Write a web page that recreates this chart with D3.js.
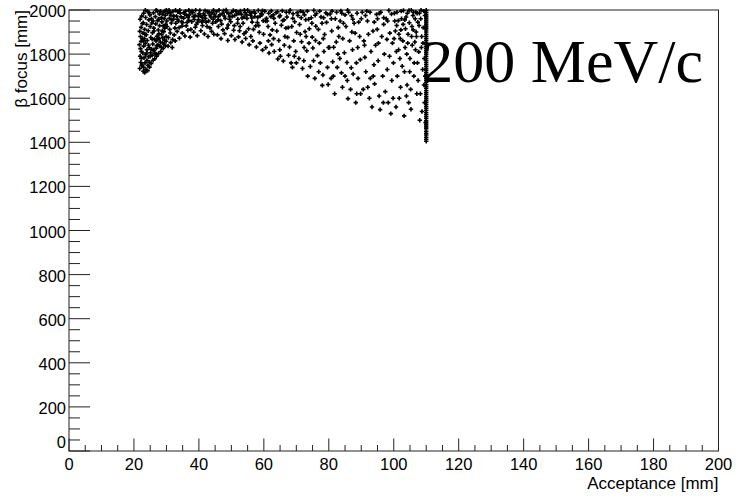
<!DOCTYPE html>
<html>
<head>
<meta charset="utf-8">
<script src="https://cdn.jsdelivr.net/npm/d3@7"></script>
<style>
body { margin: 0; background: #fff; }
.tick-label { font-family: "Liberation Sans", Arial, sans-serif; font-size: 16.5px; fill: #000; }
.title { font-family: "Liberation Sans", Arial, sans-serif; font-size: 17px; fill: #000; }
.big { font-family: "Liberation Serif", "Times New Roman", serif; font-size: 62px; fill: #000; }
</style>
</head>
<body>
<div id="chart"></div>
<script>

// axis ranges and tick values
var xDomain = [0, 200];
var yDomain = [0, 2000];
var xTicks = [0, 20, 40, 60, 80, 100, 120, 140, 160, 180, 200];
var yTicks = [0, 200, 400, 600, 800, 1000, 1200, 1400, 1600, 1800, 2000];

var xTitle = "Acceptance [mm]";
var yTitle = "\u03b2 focus [mm]";
var label = "200 MeV/c";

// scatter points [acceptance, beta focus]
var points = [
[21.8,1735],[22.1,1762],[22.4,1748],[22.9,1722],[23.3,1716],[23.7,1730],[24.2,1725],[24.8,1741],[25.3,1758],[25.9,1772],[26.4,1779],[27.0,1791],[27.6,1803],[28.3,1812],[29.0,1826],[29.7,1838],
[21.9,1790],[22.3,1812],[22.7,1805],[23.1,1783],[23.6,1797],[24.0,1771],[24.5,1788],[25.1,1806],[25.6,1794],[26.2,1815],[26.9,1827],[27.4,1842],[28.0,1836],[28.8,1851],[29.4,1863],
[21.7,1843],[22.2,1858],[22.6,1871],[23.0,1836],[23.5,1849],[24.1,1862],[24.7,1830],[25.2,1875],[25.8,1846],[26.3,1868],[27.1,1881],[27.8,1870],[28.5,1889],[29.2,1902],[29.9,1880],
[21.8,1903],[22.2,1921],[22.8,1895],[23.3,1912],[23.9,1934],[24.4,1906],[25.0,1925],[25.5,1941],[26.1,1918],[26.7,1937],[27.3,1952],[27.9,1929],[28.6,1946],[29.3,1961],[29.8,1935],
[21.9,1958],[22.4,1972],[23.0,1985],[23.6,1966],[24.2,1993],[24.9,1978],[25.4,1961],[26.0,1987],[26.6,1970],[27.2,1996],[27.8,1982],[28.4,1965],[29.1,1990],[29.7,1976],
[22.0,1880],[22.5,1750],[23.2,1870],[23.8,1888],[24.3,1749],[24.6,1955],[25.7,1897],[26.5,1802],[27.5,1909],[28.2,1994],[29.5,1918],[22.6,1938],[23.4,1760],[24.0,1820],[25.3,1822],[26.8,1860],[27.7,1892],[28.9,1874],[30.0,1999],[29.0,1928],
[22.0,1825],[22.8,1860],[23.4,1890],[23.9,1805],[24.5,1840],[25.0,1790],[25.6,1868],[26.2,1905],[26.9,1800],[27.4,1870],[28.1,1855],[28.7,1905],[29.3,1845],[22.3,1780],[23.0,1740],[24.8,1763],[25.9,1820],[27.0,1838],[28.5,1830],[29.9,1858],
[30.4,1985],[30.9,1962],[31.5,1941],[32.0,1993],[32.6,1918],[33.1,1972],[33.7,1950],[34.2,1986],[34.8,1927],[35.3,1963],[35.9,1995],[36.4,1944],[37.0,1978],[37.5,1912],[38.1,1989],[38.6,1957],[39.2,1934],[39.8,1971],[40.3,1998],[40.9,1946],[41.4,1983],[42.0,1962],[42.5,1925],[43.1,1991],[43.7,1968],[44.2,1940],[44.8,1979],
[30.6,1875],[31.2,1896],[31.9,1866],[32.4,1887],[33.3,1903],[34.0,1872],[34.9,1895],[35.7,1882],[36.6,1908],[37.3,1877],[38.4,1899],[39.5,1884],[40.6,1906],[41.7,1891],[42.8,1880],[43.9,1903],[44.6,1890],
[30.2,1925],[31.0,1912],[31.7,1955],[32.9,1940],[33.9,1920],[35.0,1942],[36.1,1928],[36.9,1999],[37.8,1947],[38.9,1922],[39.9,1955],[41.1,1930],[42.2,1945],[43.4,1919],[44.4,1958],
[30.8,1999],[31.4,1976],[32.2,1958],[33.5,1992],[34.5,1969],[35.6,1981],[36.7,1966],[37.9,1996],[38.8,1975],[40.0,1983],[41.0,1967],[41.9,1997],[43.0,1950],[44.0,1987],[45.0,1970],
[30.5,1836],[31.3,1852],[32.7,1860],[31.8,1830],
[45.4,1992],[45.9,1955],[46.5,1978],[47.0,1936],[47.6,1997],[48.1,1962],[48.7,1918],[49.2,1983],[49.8,1947],[50.3,1971],[50.9,1929],[51.4,1995],[52.0,1958],[52.5,1906],[53.1,1980],[53.6,1940],[54.2,1989],[54.8,1962],[55.3,1915],[55.9,1976],[56.4,1945],[57.0,1993],[57.5,1928],[58.1,1966],[58.6,1899],[59.2,1984],[59.8,1951],
[45.7,1887],[46.8,1870],[47.9,1893],[48.9,1862],[50.0,1884],[51.1,1866],[52.2,1878],[53.3,1855],[54.4,1871],[55.5,1843],[56.6,1860],[57.7,1832],[58.8,1850],[59.6,1818],[56.0,1880],[53.9,1892],
[46.2,1999],[47.3,1985],[48.4,2000],[49.5,1970],[50.6,1998],[51.7,1982],[52.8,1996],[53.9,1968],[55.0,1999],[56.1,1987],[57.2,1970],[58.3,1998],[59.4,1979],
[46.0,1925],[47.4,1910],[49.0,1932],[50.7,1908],[52.7,1925],[54.5,1900],[56.8,1912],[58.4,1930],[59.9,1890],
[22.9,1942],[23.5,1999],[24.6,1989],[25.9,1950],[26.8,1999],[27.6,1958],[28.8,1981],[29.6,1996],[30.1,1950],[31.1,1989],[32.3,1972],[32.8,1999],[33.4,1958],[34.1,1999],[34.7,1947],[35.4,1988],[36.2,1975],[36.9,1953],[37.6,1990],[38.3,1970],[39.0,1999],[39.6,1944],[40.5,1972],[41.2,1953],[41.8,1975],[42.6,1992],[43.3,1977],[44.5,1999],[45.2,1946],[46.0,1970],[46.7,1952],[47.8,1973],[48.6,1990],[49.4,1958],[50.1,1990],[51.0,1975],[51.9,1940],[52.3,1985],[53.3,1964],[54.0,1999],[54.7,1978],[55.6,1990],[56.3,1964],[57.3,1985],[58.0,1943],[58.9,1972],[59.6,1997],
[60.5,1950],[61.5,1985],[62.3,1996],[63.1,1962],[64.2,1992],[65.0,1975],[65.8,1952],[67.1,1968],[67.8,1990],[68.9,1962],[70.3,1988],[71.5,1965],[72.5,1978],[73.4,1995],[74.8,1940],[75.8,1976],[77.2,1995],[78.4,1965],[79.6,1980],[80.8,1960],[82.4,1990],[83.5,1950],[85.0,1978],[85.8,1999],[87.4,1958],[88.7,1985],[90.0,1960],[91.3,1975],[92.7,1990],[94.0,1945],[95.6,1985],[96.9,1965],[98.1,1950],[99.3,1982],
[60.3,1994],[60.8,1962],[61.3,1925],[61.9,1887],[62.4,1843],[62.9,1978],[63.5,1940],[64.0,1905],[64.6,1862],[65.1,1790],[65.7,1996],[66.2,1955],[66.8,1918],[67.3,1876],[67.9,1832],[68.4,1760],[69.0,1983],[69.5,1947],[70.1,1898],
[60.6,1830],[61.6,1805],[63.2,1812],[64.3,1778],[66.0,1769],[67.6,1795],[68.8,1740],[69.8,1812],[62.2,1970],[63.8,1988],[65.4,1931],[66.5,1880],[68.1,1999],[69.2,1860],[61.0,1950],[62.6,1910],[64.8,1970],[66.9,1990],[68.6,1925],[70.0,1760],
[70.5,1975],[71.0,1934],[71.6,1856],[72.1,1990],[72.7,1902],[73.2,1815],[73.8,1958],[74.3,1744],[74.9,1877],[75.4,1998],[76.0,1926],[76.5,1793],[77.1,1850],[77.6,1968],[78.2,1705],[78.7,1889],[79.3,1944],[79.8,1662],
[70.8,1780],[71.9,1735],[72.4,1830],[73.5,1700],[74.6,1965],[75.1,1828],[75.7,1690],[76.8,1912],[77.4,1760],[78.5,1812],[79.1,1987],[79.6,1740],[71.3,1995],[72.9,1956],[74.0,1915],[76.2,1984],[77.9,1940],[73.0,1880],[75.9,1862],[78.0,1658],
[61.4,1860],[63.0,1870],[64.9,1820],[66.3,1840],[67.5,1920],[69.4,1790],[71.2,1890],[72.3,1770],[73.9,1850],[75.3,1770],[76.9,1720],[78.3,1870],[79.9,1830],
[80.4,1982],[80.9,1905],[81.5,1831],[82.0,1960],[82.6,1740],[83.1,1880],[83.7,1996],[84.2,1650],[84.8,1806],[85.3,1925],[85.9,1598],[86.4,1860],[87.0,1974],[87.5,1710],[88.1,1895],[88.6,1620],[89.2,1945],[89.7,1775],
[80.7,1690],[81.8,1620],[82.3,1855],[83.4,1780],[84.5,1940],[85.0,1700],[86.1,1990],[86.7,1640],[87.3,1820],[88.3,1580],[89.0,1690],[89.5,1880],[81.2,1765],[83.9,1715],[85.6,1762],[87.8,1940],[80.2,1830],[82.9,1920],[84.0,1985],[86.9,1738],[88.9,1830],[81.0,1995],
[81.4,1700],[82.8,1800],[84.3,1870],[85.7,1680],[87.1,1900],[88.5,1760],[89.8,1620],
[90.3,1990],[90.8,1860],[91.4,1720],[91.9,1950],[92.5,1600],[93.0,1812],[93.6,1905],[94.1,1665],[94.7,1980],[95.2,1770],[95.8,1548],[96.3,1880],[96.9,1935],[97.4,1630],[98.0,1730],[98.5,1998],[99.1,1530],[99.6,1850],
[90.6,1640],[91.1,1785],[92.2,1890],[92.8,1690],[93.3,1560],[94.4,1840],[95.0,1960],[95.5,1610],[96.6,1700],[97.1,1800],[97.7,1960],[98.3,1580],[98.8,1895],[99.4,1680],[91.7,1995],[93.9,1752],[96.0,1990],[97.9,1867],[99.9,1760],[94.9,1912],
[91.0,1840],[92.0,1650],[93.7,1700],[95.3,1850],[96.8,1580],[98.7,1790],[99.8,1600],
[100.2,1985],[100.5,1905],[100.8,1812],[101.1,1700],[101.4,1952],[101.7,1600],[102.0,1870],[102.3,1995],[102.6,1745],[102.9,1935],[103.2,1520],[103.5,1830],[103.8,1968],[104.1,1660],[104.4,1890],[104.7,1998],[105.0,1780],[105.3,1550],[105.6,1925],[105.9,1975],[106.2,1700],[106.5,1855],[106.8,1990],[107.1,1620],[107.4,1945],[107.7,1810],[108.0,1500],[108.3,1960],[108.6,1880],[108.9,1730],[109.2,1995],[109.5,1580],[109.7,1920],
[100.3,1950],[101.0,1990],[101.6,1890],[102.4,1960],[103.0,1998],[103.6,1915],[104.2,1985],[104.8,1942],[105.4,1999],[106.0,1910],[106.6,1960],[107.2,1985],[107.8,1930],[108.4,1999],[109.0,1850],[109.6,1975],[100.7,1560],[102.1,1650],[103.3,1720],[104.6,1580],[106.3,1760],[107.5,1680],[108.7,1540],[109.3,1660],[109.8,1490],[101.9,1780],[104.0,1800],[105.7,1840],[107.0,1880],[109.4,1780],
[100.1,1870],[100.9,1930],[101.5,1820],[102.2,1910],[102.8,1860],[103.4,1955],[104.3,1850],[104.9,1720],[105.5,1880],[106.1,1990],[106.7,1820],[107.3,1760],[107.9,1985],[108.5,1830],[109.1,1920],[109.7,1700],[105.2,1640],[103.9,1610],[108.2,1620],[106.9,1900]
];

// the dense column of points sitting at the acceptance limit
var edgeX = 110;
var edgeY = [1405,1414,1423,1433,1441,1450,1462,1470,1479,1488,1497,1508,1516,1525,1534,1544,1553,1561,1570,1580,
  1589,1598,1607,1617,1625,1634,1644,1652,1661,1671,1680,1689,1698,1707,1716,1726,1735,1744,1753,1762,
  1771,1780,1790,1799,1808,1817,1826,1835,1845,1854,1863,1872,1881,1890,1900,1909,1918,1927,1936,1945,
  1954,1963,1972,1981,1990,1999];

function draw() {

// width and height
var w = 737;
var h = 496;
var padL = 69, padR = 718.5, padT = 10, padB = 451;

var x = d3.scaleLinear().domain(xDomain).range([padL, padR]);
var y = d3.scaleLinear().domain(yDomain).range([padB, padT]);

var svg = d3.select("#chart")
  .append("svg")
  .attr("width", w)
  .attr("height", h);

// frame
svg.append("rect")
  .attr("x", padL)
  .attr("y", padT)
  .attr("width", padR - padL)
  .attr("height", padB - padT)
  .attr("fill", "none")
  .attr("stroke", "#222")
  .attr("stroke-width", 1);

// x axis: major every 20, minor every 5
var xMinor = d3.range(xDomain[0], xDomain[1] + 1, 5);
svg.append("g").selectAll("line")
  .data(xMinor)
  .enter().append("line")
  .attr("x1", function(d) { return x(d); })
  .attr("x2", function(d) { return x(d); })
  .attr("y1", padB)
  .attr("y2", function(d) { return d % 20 === 0 ? padB - 12.5 : padB - 6; })
  .attr("stroke", "#222");

svg.append("g").selectAll("text")
  .data(xTicks)
  .enter().append("text")
  .attr("class", "tick-label")
  .attr("x", function(d) { return x(d); })
  .attr("y", 469.5)
  .attr("text-anchor", "middle")
  .text(function(d) { return d; });

// y axis: major every 200, minor every 50
var yMinor = d3.range(yDomain[0], yDomain[1] + 1, 50);
svg.append("g").selectAll("line")
  .data(yMinor)
  .enter().append("line")
  .attr("y1", function(d) { return y(d); })
  .attr("y2", function(d) { return y(d); })
  .attr("x1", padL)
  .attr("x2", function(d) { return d % 200 === 0 ? padL + 21 : padL + 11; })
  .attr("stroke", "#222");

svg.append("g").selectAll("text")
  .data(yTicks)
  .enter().append("text")
  .attr("class", "tick-label")
  .attr("x", 66)
  .attr("y", function(d) { return d === 0 ? y(d) - 3 : y(d) + 7; })
  .attr("text-anchor", "end")
  .text(function(d) { return d; });

// axis titles
svg.append("text")
  .attr("class", "title")
  .attr("x", padR)
  .attr("y", 489)
  .attr("text-anchor", "end")
  .text(xTitle);

svg.append("text")
  .attr("class", "title")
  .attr("transform", "translate(27," + padT + ") rotate(-90)")
  .attr("text-anchor", "end")
  .text(yTitle);

// markers drawn as small plus signs
var plus = "M-2.2,0H2.2M0,-2.2V2.2";
var dots = svg.append("g")
  .attr("stroke", "#000")
  .attr("stroke-width", 1.6)
  .attr("fill", "none");

dots.selectAll("path.pt")
  .data(points)
  .enter().append("path")
  .attr("class", "pt")
  .attr("d", plus)
  .attr("transform", function(d) { return "translate(" + x(d[0]) + "," + y(d[1]) + ")"; });

dots.selectAll("path.edge")
  .data(edgeY)
  .enter().append("path")
  .attr("class", "edge")
  .attr("d", plus)
  .attr("transform", function(d) { return "translate(" + x(edgeX) + "," + y(d) + ")"; });

// momentum label
svg.append("text")
  .attr("class", "big")
  .attr("x", 703)
  .attr("y", 82)
  .attr("text-anchor", "end")
  .text(label);
}

draw();
</script>
</body>
</html>
